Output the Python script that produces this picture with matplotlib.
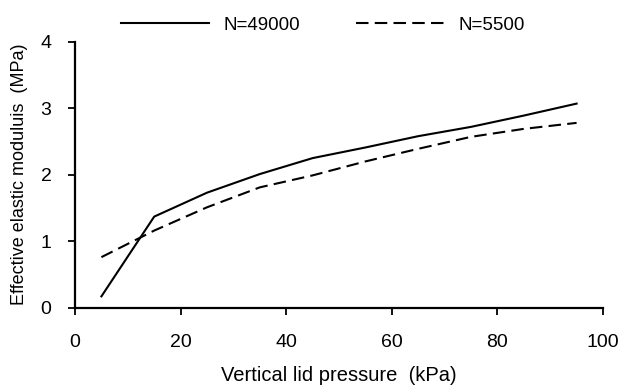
import matplotlib
matplotlib.use("Agg")
import matplotlib.pyplot as plt

plt.rcParams['font.family'] = ['Liberation Sans', 'DejaVu Sans']

# data
pressure = [5, 15, 25, 35, 45, 55, 65, 75, 85, 95]
e_49000 = [0.17, 1.37, 1.73, 2.01, 2.25, 2.41, 2.58, 2.72, 2.89, 3.07]
e_5500 = [0.76, 1.16, 1.51, 1.81, 1.99, 2.20, 2.39, 2.57, 2.69, 2.78]

fig = plt.figure(figsize=(6.21, 3.87), dpi=100)
ax = fig.add_axes([0.1208, 0.205, 0.8502, 0.687])

ax.plot(pressure, e_49000, color='black', lw=1.5, label='N=49000')
ax.plot(pressure, e_5500, color='black', lw=1.5, dashes=(6, 3), label='N=5500')

ax.set_xlim(0, 100)
ax.set_ylim(0, 4)
ax.set_xticks([0, 20, 40, 60, 80, 100])
ax.set_yticks([0, 1, 2, 3, 4])

for s in ['top', 'right']:
    ax.spines[s].set_visible(False)
for s in ['left', 'bottom']:
    ax.spines[s].set_linewidth(1.6)
ax.tick_params(direction='out', length=5, width=1.3, labelsize=14)
ax.tick_params(axis='x', pad=14)
ax.tick_params(axis='y', pad=12)

ax.set_xlabel('Vertical lid pressure  (kPa)', fontsize=14.5, labelpad=11)
ax.set_ylabel('Effective elastic moduluis  (MPa)', fontsize=13, labelpad=9)

fig.legend(loc='center', bbox_to_anchor=(0.52, 0.935), ncol=2, frameon=False,
           fontsize=13.5, handlelength=4.7, handletextpad=0.75, columnspacing=3.0)

fig.savefig('out.png', dpi=100)
